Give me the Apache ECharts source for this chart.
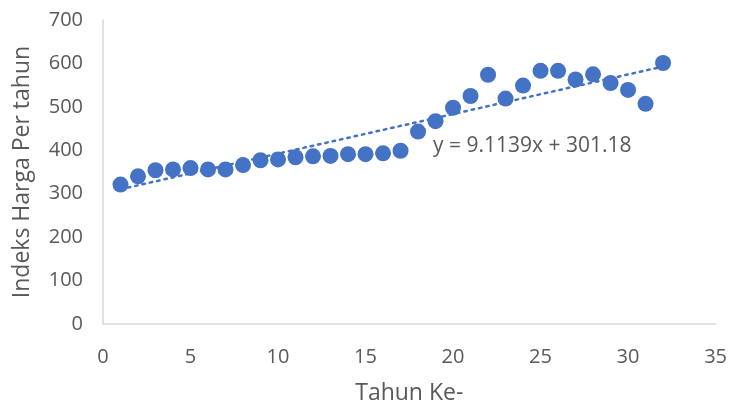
<!DOCTYPE html>
<html><head><meta charset="utf-8">
<script src="https://cdn.jsdelivr.net/npm/echarts@6/dist/echarts.min.js"></script>
<style>html,body{margin:0;padding:0;background:#fff}#c{width:730px;height:410px}</style>
</head><body><div id="c"></div>
<script>
const years = [1,2,3,4,5,6,7,8,9,10,11,12,13,14,15,16,17,18,19,20,21,22,23,24,25,26,27,28,29,30,31,32];
const indexValues = [321,340,354,356,359,356,356,366,377,379,384,386,387,391,391,393,399,443,467,498,525,574,519,549,583,583,563,575,555,539,507,601];
const trendSlope = 9.1139;
const trendIntercept = 301.18;
const trendLabel = 'y = 9.1139x + 301.18';
const xAxisTitle = 'Tahun Ke-';
const yAxisTitle = 'Indeks Harga Per tahun';

const pts = years.map((x,i)=>[x, indexValues[i]]);
const xStart = years[0], xEnd = years[years.length-1];
const trend = [[xStart, trendSlope*xStart+trendIntercept],[xEnd, trendSlope*xEnd+trendIntercept]];
const font = "'Open Sans', 'Liberation Sans', sans-serif";
const chart = echarts.init(document.getElementById('c'), null, {renderer:'canvas'});
chart.setOption({
  animation:false,
  grid:{left:103,right:14,top:20,bottom:85},
  xAxis:{type:'value',min:0,max:35,interval:5,
    name:xAxisTitle,nameLocation:'middle',nameGap:58,
    nameTextStyle:{fontFamily:font,fontSize:23,color:'#595959'},
    axisLine:{show:true,lineStyle:{color:'#D9D9D9',width:1.5}},axisTick:{show:false},
    splitLine:{show:false},
    axisLabel:{fontFamily:font,fontSize:20,color:'#595959',margin:23}},
  yAxis:{type:'value',min:0,max:700,interval:100,
    name:yAxisTitle,nameLocation:'middle',nameGap:69,nameRotate:90,
    nameTextStyle:{fontFamily:font,fontSize:23,color:'#595959'},
    axisLine:{show:true,lineStyle:{color:'#D9D9D9',width:1.5}},axisTick:{show:false},
    splitLine:{show:false},
    axisLabel:{fontFamily:font,fontSize:20,color:'#595959',margin:20,padding:[4,0,0,0]}},
  series:[
    {type:'line',data:trend,symbol:'none',z:1,
      lineStyle:{color:'#4472C4',width:2.5,type:[2.5,5],cap:'round'}},
    {type:'scatter',data:pts,symbolSize:16,z:2,itemStyle:{color:'#4472C4',opacity:1}}
  ],
  graphic:[{type:'text',x:433,y:146,style:{text:trendLabel,fontFamily:font,fontSize:21,fill:'#595959',verticalAlign:'middle'}}]
});
</script></body></html>
